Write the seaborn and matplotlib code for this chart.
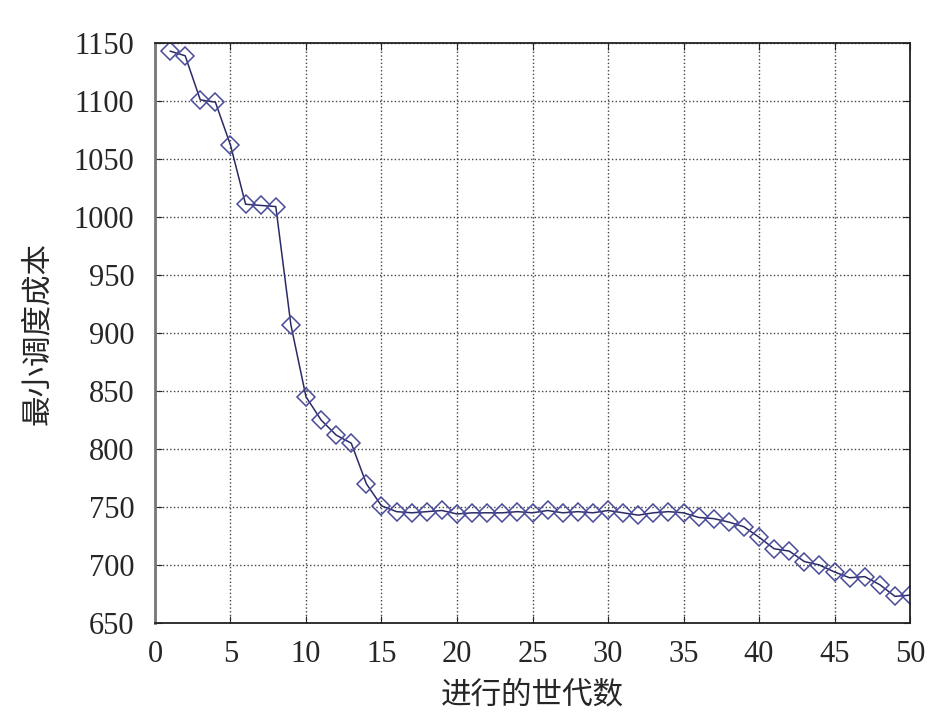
import numpy as np
import pandas as pd
import seaborn as sns
import matplotlib.pyplot as plt

generations = list(range(1, 51))
min_cost = [1143, 1139, 1101, 1099, 1062, 1011, 1010, 1009, 907, 845,
            825, 812, 805, 770, 751, 746, 745, 746, 747, 744,
            745, 745, 745, 746, 745, 747, 745, 746, 745, 747,
            745, 743, 745, 746, 745, 741, 740, 737, 733, 724,
            714, 712, 703, 700, 694, 689, 690, 683, 673, 674]
x_ticks = [0, 5, 10, 15, 20, 25, 30, 35, 40, 45, 50]
y_ticks = [650, 700, 750, 800, 850, 900, 950, 1000, 1050, 1100, 1150]

df = pd.DataFrame({'gen': generations, 'cost': min_cost})

sns.set_style('ticks')
plt.rcParams['font.family'] = ['Liberation Serif', 'Noto Sans CJK SC']

fig = plt.figure(figsize=(9.45, 7.23), dpi=100)
ax = fig.add_axes([0.164, 0.1383, 0.799, 0.8022])

sns.lineplot(data=df, x='gen', y='cost', ax=ax, color='#2a2a66', linewidth=1.1,
             marker='D', markersize=9, markerfacecolor='none',
             markeredgecolor='#4a4a9a', markeredgewidth=1.1)

ax.set_xlim(0, 50)
ax.set_ylim(650, 1150)
ax.set_xticks(x_ticks)
ax.set_yticks(y_ticks)
ax.grid(True, linestyle=':', color='#444444', linewidth=1.0)
ax.tick_params(direction='in', top=True, right=True, length=5, labelsize=22)
ax.tick_params(axis='x', pad=12)
ax.tick_params(axis='y', pad=15)
for s in ax.spines.values():
    s.set_color('#222222')
    s.set_linewidth(1.3)
ax.spines['left'].set_color('#777777')
ax.spines['left'].set_linewidth(2)

ax.set_xlabel('进行的世代数', fontsize=22, family=['Noto Sans CJK SC'], labelpad=8)
ax.set_ylabel('最小调度成本', fontsize=22, family=['Noto Sans CJK SC'], labelpad=15)

fig.savefig('out.png', dpi=100)
